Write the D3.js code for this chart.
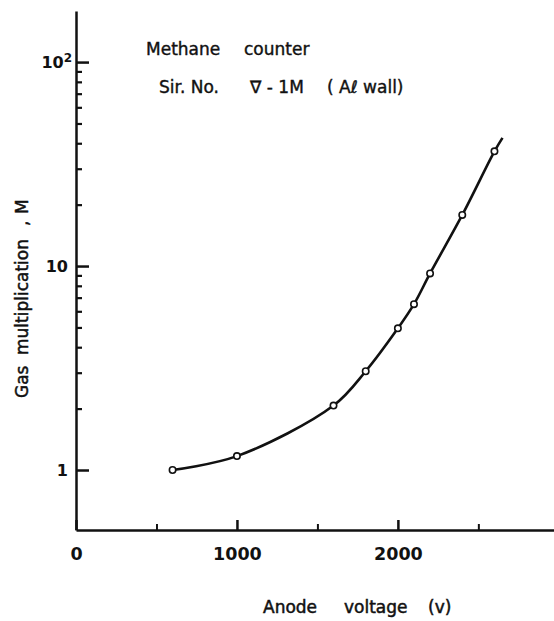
<!DOCTYPE html>
<html>
<head>
<meta charset="utf-8">
<script src="https://cdn.jsdelivr.net/npm/d3@7"></script>
<style>
  body { margin: 0; background: #fff; }
  svg { display: block; }
  text { font-family: "DejaVu Sans", sans-serif; fill: #111; }
</style>
</head>
<body>
<script>
// Measured points (anode voltage in V, gas multiplication M)
const voltage = [600, 1000, 1600, 1800, 2000, 2100, 2200, 2400, 2600];
const gain    = [1.0, 1.17, 2.07, 3.05, 4.95, 6.5, 9.2, 17.8, 36.5];
// the drawn curve runs a little past the last point
const tailVoltage = [2650];
const tailGain    = [42.5];

const xMajorTicks = [0, 1000, 2000];
const xMinorTicks = [500, 1500, 2500];
const yMajorTicks = [1, 10, 100];
const yMinorTicks = [2, 3, 4, 5, 6, 7, 8, 9, 20, 30, 40, 50, 60, 70, 80, 90];
const xDomain = [0, 2970];
const yDomain = [0.508, 178];

const SVG_WIDTH = 554, SVG_HEIGHT = 621;

let margin = null, width = null, height = null;
let svg = null;
let x, y = null;

// Main Process
setupCanvasSize();
appendSvg("body");
setupXScale();
setupYScale();
appendXAxis();
appendYAxis();
appendCurve();
appendPoints();
appendTexts();

function setupCanvasSize() {
  margin = {top: 11, left: 76, bottom: 91, right: 0};
  width = SVG_WIDTH - margin.left - margin.right;
  height = SVG_HEIGHT - margin.top - margin.bottom;
}

function appendSvg(domElement) {
  svg = d3.select(domElement).append("svg")
      .attr("width", SVG_WIDTH)
      .attr("height", SVG_HEIGHT)
    .append("g")
      .attr("transform", `translate(${margin.left}, ${margin.top})`);
}

function setupXScale() {
  x = d3.scaleLinear().domain(xDomain).range([0, width]);
}

function setupYScale() {
  y = d3.scaleLog().domain(yDomain).range([height, 0]);
}

function styleAxis(g, size, tickWidth) {
  g.attr("font-family", null).attr("font-size", size).attr("font-weight", "bold");
  g.select(".domain").attr("stroke", "#111").attr("stroke-width", 2.5);
  g.selectAll(".tick line").attr("stroke", "#111").attr("stroke-width", tickWidth);
  g.selectAll(".tick text").attr("fill", "#111");
}

// ticks point inward, labels outside
function appendXAxis() {
  svg.append("g")
      .attr("transform", `translate(0, ${height})`)
      .call(d3.axisBottom(x).tickValues(xMinorTicks).tickSize(-6).tickSizeOuter(0).tickFormat(""))
      .call(g => g.select(".domain").remove())
      .call(g => styleAxis(g, 17.5, 2));

  svg.append("g")
      .attr("transform", `translate(0, ${height})`)
      .call(d3.axisBottom(x).tickValues(xMajorTicks).tickSize(-10).tickSizeOuter(0)
              .tickPadding(18).tickFormat(d3.format("d")))
      .call(g => styleAxis(g, 17.5, 2.5));
}

function appendYAxis() {
  svg.append("g")
      .call(d3.axisLeft(y).tickValues(yMinorTicks).tickSize(-6).tickSizeOuter(0).tickFormat(""))
      .call(g => g.select(".domain").remove())
      .call(g => styleAxis(g, 16, 2.2));

  let yAxis = svg.append("g")
      .call(d3.axisLeft(y).tickValues(yMajorTicks).tickSize(-13).tickSizeOuter(0)
              .tickPadding(8).tickFormat(d => d === 100 ? "10" : d3.format("d")(d)))
      .call(g => styleAxis(g, 16, 2.5));

  // superscript on the top label
  yAxis.selectAll(".tick text").filter(d => d === 100)
      .attr("x", -4)
      .append("tspan").attr("dy", "-0.45em").attr("font-size", 12).text("2");
}

function appendCurve() {
  let vs = voltage.concat(tailVoltage);
  let ms = gain.concat(tailGain);
  let line = d3.line()
      .x(i => x(vs[i]))
      .y(i => y(ms[i]))
      .curve(d3.curveCatmullRom.alpha(0.5));

  svg.append("path")
      .attr("d", line(d3.range(vs.length)))
      .attr("fill", "none")
      .attr("stroke", "#111")
      .attr("stroke-width", 2.6);
}

function appendPoints() {
  svg.selectAll("circle.pt")
      .data(d3.range(voltage.length))
    .enter().append("circle")
      .attr("class", "pt")
      .attr("cx", i => x(voltage[i]))
      .attr("cy", i => y(gain[i]))
      .attr("r", 3.2)
      .attr("fill", "#fff")
      .attr("stroke", "#111")
      .attr("stroke-width", 1.6);
}

function appendTexts() {
  let root = d3.select("svg");

  // annotation
  let note = root.append("g").attr("font-size", 17)
      .attr("stroke", "#111").attr("stroke-width", 0.4);
  note.append("text").attr("x", 146).attr("y", 55).text("Methane");
  note.append("text").attr("x", 244).attr("y", 55).text("counter");
  note.append("text").attr("x", 159).attr("y", 93).text("Sir.  No.");
  note.append("text").attr("x", 250).attr("y", 93).text("∇ - 1M");
  note.append("text").attr("x", 327).attr("y", 93).text("( Aℓ  wall)");

  // x axis title
  let xt = root.append("g").attr("font-size", 17)
      .attr("stroke", "#111").attr("stroke-width", 0.5);
  xt.append("text").attr("x", 263).attr("y", 613).text("Anode");
  xt.append("text").attr("x", 344).attr("y", 613).text("voltage");
  xt.append("text").attr("x", 428).attr("y", 613).text("(v)");

  // y axis title
  let yt = root.append("text")
      .attr("font-size", 17)
      .attr("stroke", "#111").attr("stroke-width", 0.5)
      .attr("transform", "translate(28, 398) rotate(-90)");
  yt.append("tspan").attr("x", 0).text("Gas");
  yt.append("tspan").attr("x", 43).text("multiplication");
  yt.append("tspan").attr("x", 172).text(",");
  yt.append("tspan").attr("x", 184).text("M");
}
</script>
</body>
</html>
